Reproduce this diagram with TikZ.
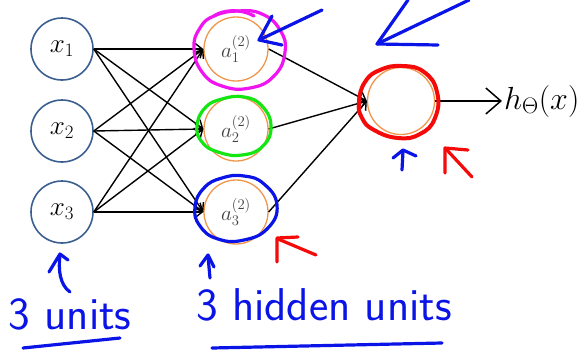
\RequirePackage{fix-cm}
\documentclass[tikz,border=0pt]{standalone}
\usepackage{amsmath}
\usepackage{tikz}
\usetikzlibrary{arrows.meta}
\tikzset{>={Straight Barb[length=7pt,width=11pt]}}
\definecolor{inblue}{RGB}{60,95,145}
\definecolor{hidorange}{RGB}{240,150,75}
\definecolor{penblue}{RGB}{10,20,230}
\definecolor{penred}{RGB}{245,10,10}
\definecolor{penpink}{RGB}{240,20,240}
\definecolor{pengreen}{RGB}{20,230,20}

\begin{document}
\begin{tikzpicture}
  [
    x=1pt, y=-1pt,
    input/.style={circle, draw=inblue, line width=1.6pt, minimum size=62pt, inner sep=0pt, font=\fontsize{27}{27}\selectfont},
    hidden/.style={circle, draw=hidorange, line width=1.3pt, minimum size=64pt, inner sep=0pt, text=black!75, font=\fontsize{21}{21}\selectfont},
    arr/.style={->, draw, line width=1.4pt},
    bigarr/.style={-{Straight Barb[length=15pt,width=26pt]}, draw, line width=1.5pt},
    pen/.style={line width=3.2pt, line cap=round, line join=round},
    scribble/.style={text=penblue, font=\sffamily\fontsize{46}{46}\selectfont}
  ]
  \useasboundingbox (0,0) rectangle (588,351);

  \node (x-1) [input] at (62,49) {$x_1$};
  \node (x-2) [input] at (62,131) {$x_2$};
  \node (x-3) [input] at (62,212) {$x_3$};
  \node (a-1) [hidden] at (236,49) {$a^{(2)}_1$};
  \node (a-2) [hidden] at (236,129) {$a^{(2)}_2$};
  \node (a-3) [hidden] at (236,212) {$a^{(2)}_3$};
  \node (out) [hidden, minimum size=67pt] at (401,101) {};
  \node (h-x) [anchor=west, inner sep=2pt, font=\fontsize{32}{32}\selectfont] at (502,101) {$h_\Theta(x)$};

  \draw [arr] (x-1.east) -- (a-1.west);
  \draw [arr] (x-1.east) -- (a-2.west);
  \draw [arr] (x-1.east) -- (a-3.west);
  \draw [arr] (x-2.east) -- (a-1.west);
  \draw [arr] (x-2.east) -- (a-2.west);
  \draw [arr] (x-2.east) -- (a-3.west);
  \draw [arr] (x-3.east) -- (a-1.west);
  \draw [arr] (x-3.east) -- (a-2.west);
  \draw [arr] (x-3.east) -- (a-3.west);
  \draw [arr] (a-1.east) -- (out.west);
  \draw [arr] (a-2.east) -- (out.west);
  \draw [arr] (a-3.east) -- (out.west);
  \draw [bigarr] (out.east) -- (h-x.west);

  % pen marks
  \draw [pen, penpink] plot [smooth cycle, tension=0.8] coordinates {(194,48) (200,28) (214,16) (238,11) (262,14) (280,30) (285,52) (274,76) (250,88) (222,86) (202,72)};
  \draw [pen, penpink] (214,16) .. controls (222,10) and (240,8) .. (254,16);
  \draw [pen, pengreen] plot [smooth cycle, tension=0.8] coordinates {(197,126) (205,108) (222,99) (244,97) (262,106) (271,126) (263,146) (242,155) (218,152) (202,142)};
  \draw [pen, penblue] plot [smooth cycle, tension=0.8] coordinates {(195,207) (204,188) (222,178) (244,176) (264,184) (277,205) (268,228) (244,240) (218,239) (200,226)};
  \draw [pen, penred, line width=4pt] plot [smooth cycle, tension=0.8] coordinates {(359,102) (365,82) (380,70) (402,66) (424,72) (437,92) (435,118) (420,134) (398,138) (374,130) (362,118)};

  \draw [pen, penblue] (322,10) -- (259,40);
  \draw [pen, penblue] (272,16) -- (259,40) -- (282,45);
  \draw [pen, penblue] (469,0) -- (377,44);
  \draw [pen, penblue] (408,0) -- (377,44) -- (438,45);
  \draw [pen, penblue] (402,170) -- (403,151);
  \draw [pen, penblue] (393,158) -- (403,150) -- (416,156);
  \draw [pen, penred] (472,177) -- (446,149);
  \draw [pen, penred] (445,173) -- (445,148) -- (468,150);
  \draw [pen, penred] (316,255) -- (278,239);
  \draw [pen, penred] (277,262) -- (277,238) -- (298,237);
  \draw [pen, penblue] (210,278) -- (208,256);
  \draw [pen, penblue] (200,266) -- (208,255) -- (214,267);
  \draw [pen, penblue] (70,292) .. controls (60,285) and (58,270) .. (60,255);
  \draw [pen, penblue] (49,272) -- (60,254) -- (68,260);

  \node (units-in) [scribble] at (70,314) {3 units};
  \node (units-hid) [scribble] at (324,305) {3 hidden units};
  \draw [pen, penblue] (23,348) -- (120,338);
  \draw [pen, penblue] (212,348) -- (442,343);
\end{tikzpicture}
\end{document}
